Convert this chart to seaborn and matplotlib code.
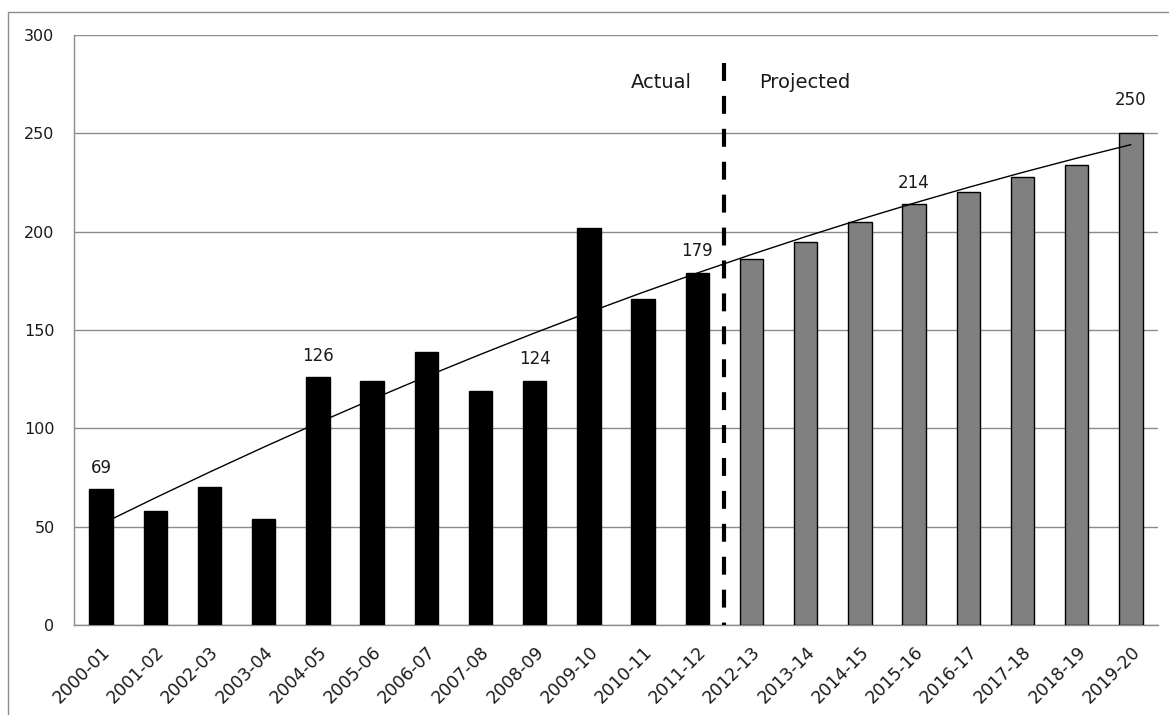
import numpy as np
import pandas as pd
import matplotlib
matplotlib.use("Agg")
import matplotlib.pyplot as plt
import seaborn as sns
from matplotlib.patches import Rectangle

periods = ["2000-01", "2001-02", "2002-03", "2003-04", "2004-05", "2005-06", "2006-07",
           "2007-08", "2008-09", "2009-10", "2010-11", "2011-12", "2012-13", "2013-14",
           "2014-15", "2015-16", "2016-17", "2017-18", "2018-19", "2019-20"]
values = [69, 58, 70, 54, 126, 124, 139, 119, 124, 202, 166, 179,
          186, 195, 205, 214, 220, 228, 234, 250]
status = ["Actual"] * 12 + ["Projected"] * 8
labelled = ["2000-01", "2004-05", "2008-09", "2011-12", "2015-16", "2019-20"]
label_gap = [11, 11, 11, 11, 11, 17]
yticks = [0, 50, 100, 150, 200, 250, 300]

sns.set_style("white")
plt.rcParams['font.family'] = ['DejaVu Sans']
TXT = "#1a1a1a"
GRID = "#8c8c8c"

fig = plt.figure(figsize=(11.69, 7.15), dpi=100)
ax = fig.add_axes([74/1169, 1-625/715, (1158-74)/1169, (625-35)/715])

df = pd.DataFrame({"period": periods, "value": values, "status": status})
sns.barplot(data=df, x="period", y="value", hue="status",
            palette={"Actual": "black", "Projected": "#808080"},
            dodge=False, width=0.43, edgecolor="black", linewidth=1,
            legend=False, ax=ax, zorder=3)

# polynomial (2nd order) trend line
xi = np.arange(len(values))
coef = np.polyfit(xi, values, 2)
ax.plot(xi, np.polyval(coef, xi), color="black", lw=1, zorder=4)

# data labels
for p, g in zip(labelled, label_gap):
    i = periods.index(p)
    v = values[i]
    ax.text(i, v + g, str(v), ha="center", va="center", fontsize=12, color=TXT, zorder=5)

# divider between actual and projected
ax.plot([11.5, 11.5], [286, 0], color="black", lw=3, ls=(0, (4.3, 3.6)), zorder=5)
ax.text(10.9, 276, "Actual", ha="right", va="center", fontsize=14, color=TXT)
ax.text(12.14, 276, "Projected", ha="left", va="center", fontsize=14, color=TXT)

ax.set_xlim(-0.5, len(values) - 0.5)
ax.set_ylim(0, 300)
ax.set_yticks(yticks)
ax.set_yticklabels([str(t) for t in yticks], fontsize=11.5, color=TXT)
ax.yaxis.grid(True, color=GRID, lw=1, zorder=0)
ax.set_axisbelow(True)
ax.set_xlabel("")
ax.set_ylabel("")

ax.set_xticks(xi)
ax.set_xticklabels(periods, rotation=45, ha="right", rotation_mode="anchor", fontsize=12.5, color=TXT)
ax.set_xticks(np.arange(-0.5, len(values)), minor=True)
ax.tick_params(axis="x", which="major", length=0, pad=13)
ax.tick_params(axis="x", which="minor", length=6, color=GRID, direction="out")
ax.tick_params(axis="y", length=6, color=GRID, direction="out", pad=8)

for s in ["top", "right"]:
    ax.spines[s].set_visible(False)
for s in ["left", "bottom"]:
    ax.spines[s].set_color(GRID)
    ax.spines[s].set_linewidth(1)

fig.patches.append(Rectangle((8/1169, -0.1), 1.2, 1 - 12/715 + 0.1, transform=fig.transFigure,
                             fill=False, edgecolor=GRID, lw=1))

fig.savefig("out.png", dpi=100)
